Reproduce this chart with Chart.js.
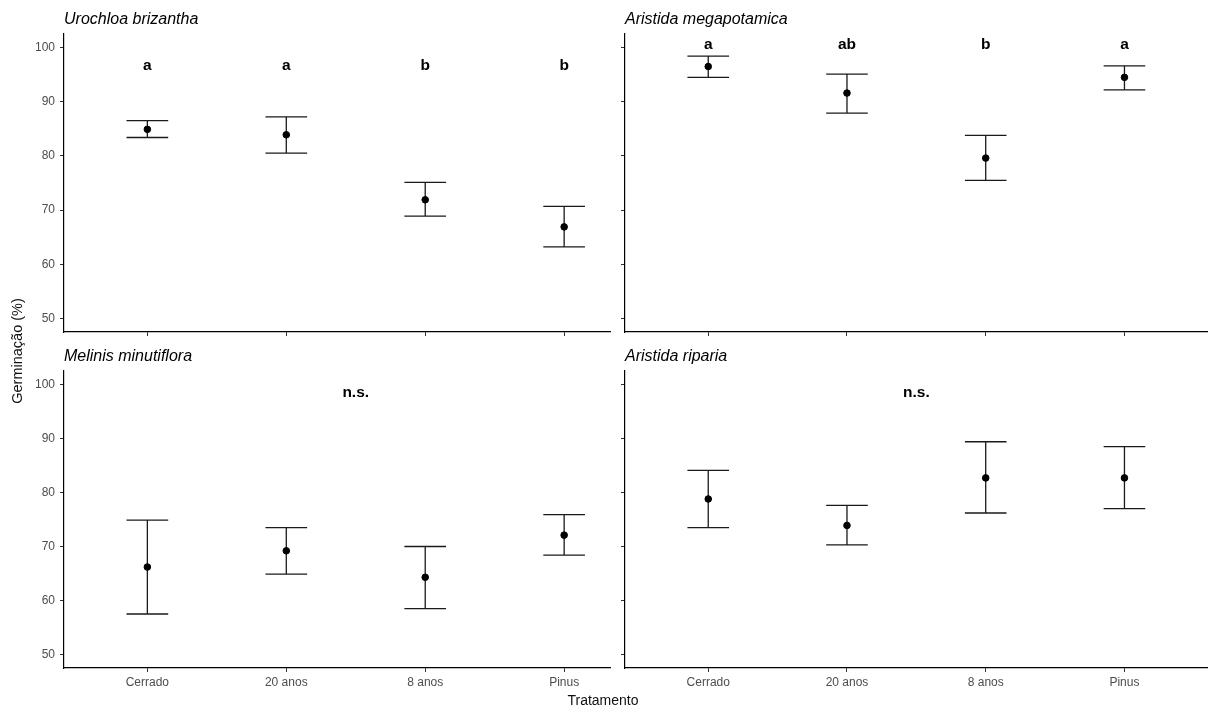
<!DOCTYPE html>
<html>
<head>
<meta charset="utf-8">
<script src="https://cdn.jsdelivr.net/npm/chart.js@4.4.1/dist/chart.umd.min.js"></script>
<style>
  body { margin: 0; background: #fff; }
  #wrap { position: relative; width: 1208px; height: 710px; overflow: hidden; font-family: "Liberation Sans", Arial, sans-serif; }
  .panel { position: absolute; }
  #ylab { position: absolute; left: 0; top: 251px; }
  #xlab { position: absolute; left: 603px; top: 700px; transform: translate(-50%, -50%); font-size: 14px; color: #111; white-space: nowrap; }
</style>
</head>
<body>
<div id="wrap">
  <div class="panel" style="left:0;top:0"><canvas id="p1" width="616" height="345"></canvas></div>
  <div class="panel" style="left:561px;top:0"><canvas id="p2" width="651" height="345"></canvas></div>
  <div class="panel" style="left:0;top:337px"><canvas id="p3" width="616" height="373"></canvas></div>
  <div class="panel" style="left:561px;top:337px"><canvas id="p4" width="651" height="373"></canvas></div>
  <canvas id="ylab" width="30" height="200"></canvas>
  <div id="xlab">Tratamento</div>
</div>
<script>
// treatments and axis ticks
const treatments = ['Cerrado', '20 anos', '8 anos', 'Pinus'];
const yTicks = [50, 60, 70, 80, 90, 100];

// Urochloa brizantha
const urochloaMean = [84.9, 83.9, 71.9, 66.9];
const urochloaLow  = [83.4, 80.5, 68.9, 63.2];
const urochloaHigh = [86.5, 87.2, 75.1, 70.7];
const urochloaLetters = ['a', 'a', 'b', 'b'];

// Aristida megapotamica
const megaMean = [96.5, 91.6, 79.6, 94.5];
const megaLow  = [94.5, 87.9, 75.5, 92.2];
const megaHigh = [98.4, 95.1, 83.8, 96.6];
const megaLetters = ['a', 'ab', 'b', 'a'];

// Melinis minutiflora
const melinisMean = [66.2, 69.2, 64.3, 72.1];
const melinisLow  = [57.5, 64.9, 58.5, 68.4];
const melinisHigh = [74.9, 73.5, 70.0, 75.9];

// Aristida riparia
const ripariaMean = [78.8, 73.9, 82.7, 82.7];
const ripariaLow  = [73.5, 70.3, 76.2, 77.0];
const ripariaHigh = [84.1, 77.6, 89.4, 88.5];

const FONT = '"Liberation Sans", Arial, sans-serif';

// draws error bars, panel title and the letter labels using the chart scales
const panelDeco = {
  id: 'panelDeco',
  beforeDatasetsDraw(chart, args, opts) {
    const { ctx, scales: { x, y } } = chart;
    ctx.save();
    ctx.strokeStyle = '#1a1a1a';
    ctx.lineWidth = 1.3;
    const capHalf = (x.getPixelForValue(0.15) - x.getPixelForValue(0));
    opts.low.forEach((lo, i) => {
      const px = x.getPixelForValue(i);
      const yLo = y.getPixelForValue(lo);
      const yHi = y.getPixelForValue(opts.high[i]);
      ctx.beginPath();
      ctx.moveTo(px, yLo); ctx.lineTo(px, yHi);
      ctx.moveTo(px - capHalf, yLo); ctx.lineTo(px + capHalf, yLo);
      ctx.moveTo(px - capHalf, yHi); ctx.lineTo(px + capHalf, yHi);
      ctx.stroke();
    });
    ctx.restore();
  },
  afterDraw(chart, args, opts) {
    const { ctx, chartArea, scales: { x, y } } = chart;
    ctx.save();
    ctx.fillStyle = '#000';
    ctx.font = 'italic 16px ' + FONT;
    ctx.textAlign = 'left';
    ctx.textBaseline = 'alphabetic';
    ctx.fillText(opts.title, chartArea.left, chartArea.top - 10);

    ctx.font = 'bold 15.5px ' + FONT;
    ctx.textAlign = 'center';
    ctx.textBaseline = 'middle';
    (opts.labels || []).forEach(l => {
      ctx.fillText(l.text, x.getPixelForValue(l.x), y.getPixelForValue(l.y));
    });
    ctx.restore();
  }
};

function makePanel(id, cfg) {
  const ctx = document.getElementById(id).getContext('2d');
  return new Chart(ctx, {
    type: 'scatter',
    data: {
      datasets: [{
        data: cfg.mean.map((v, i) => ({ x: i, y: v })),
        backgroundColor: '#000',
        borderColor: '#000',
        pointRadius: 3.3,
        pointHoverRadius: 3.3
      }]
    },
    options: {
      responsive: false,
      animation: false,
      layout: { padding: { top: 34, right: cfg.padRight, left: 0, bottom: 0 } },
      plugins: {
        legend: { display: false },
        tooltip: { enabled: false },
        panelDeco: { title: cfg.title, low: cfg.low, high: cfg.high, labels: cfg.labels }
      },
      scales: {
        x: {
          type: 'linear',
          min: -0.6,
          max: cfg.xMax,
          afterBuildTicks: s => { s.ticks = treatments.map((t, i) => ({ value: i })); },
          afterFit: s => { s.height = cfg.xHeight; },
          ticks: {
            padding: 3,
            color: '#4d4d4d',
            font: { family: FONT, size: 12 },
            maxRotation: 0,
            callback: v => cfg.showX ? treatments[v] : ''
          },
          grid: { drawOnChartArea: false, tickLength: 4, color: '#333' },
          border: { color: '#000', width: 1.2 }
        },
        y: {
          min: 47.5,
          max: 102.5,
          afterBuildTicks: s => { s.ticks = yTicks.map(v => ({ value: v })); },
          afterFit: s => { s.width = 64; },
          ticks: {
            padding: 5,
            color: '#4d4d4d',
            font: { family: FONT, size: 12 },
            callback: v => cfg.showY ? String(v) : ''
          },
          grid: { drawOnChartArea: false, tickLength: 4, color: '#333' },
          border: { color: '#000', width: 1.2 }
        }
      }
    },
    plugins: [panelDeco]
  });
}

const leftMax = 3.33;
const rightMax = 3.6;

makePanel('p1', {
  title: 'Urochloa brizantha', mean: urochloaMean, low: urochloaLow, high: urochloaHigh,
  labels: urochloaLetters.map((t, i) => ({ text: t, x: i, y: 96.6 })),
  xMax: leftMax, padRight: 6, xHeight: 13, showX: false, showY: true
});
makePanel('p2', {
  title: 'Aristida megapotamica', mean: megaMean, low: megaLow, high: megaHigh,
  labels: megaLetters.map((t, i) => ({ text: t, x: i, y: 100.6 })),
  xMax: rightMax, padRight: 1, xHeight: 13, showX: false, showY: false
});
makePanel('p3', {
  title: 'Melinis minutiflora', mean: melinisMean, low: melinisLow, high: melinisHigh,
  labels: [{ text: 'n.s.', x: 1.5, y: 98.5 }],
  xMax: leftMax, padRight: 6, xHeight: 42, showX: true, showY: true
});
makePanel('p4', {
  title: 'Aristida riparia', mean: ripariaMean, low: ripariaLow, high: ripariaHigh,
  labels: [{ text: 'n.s.', x: 1.5, y: 98.5 }],
  xMax: rightMax, padRight: 1, xHeight: 42, showX: true, showY: false
});

// shared y axis title, drawn rotated
(function drawYLabel() {
  const c = document.getElementById('ylab').getContext('2d');
  c.save();
  c.translate(22, 100);
  c.rotate(-Math.PI / 2);
  c.fillStyle = '#111';
  c.font = '14.5px ' + FONT;
  c.textAlign = 'center';
  c.textBaseline = 'alphabetic';
  c.fillText('Germinação (%)', 0, 0);
  c.restore();
})();
</script>
</body>
</html>
